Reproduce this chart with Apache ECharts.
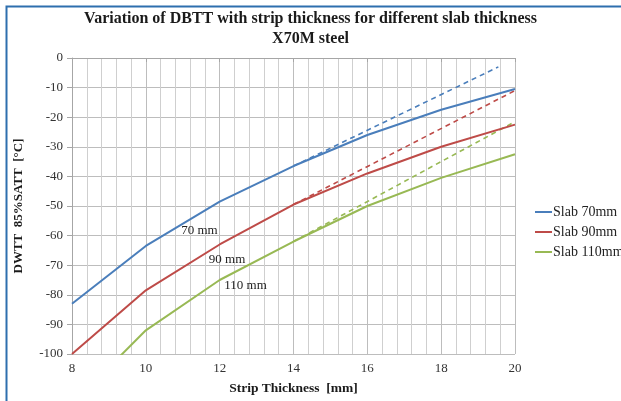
<!DOCTYPE html>
<html>
<head>
<meta charset="utf-8">
<title>DBTT vs strip thickness</title>
<script src="https://cdn.jsdelivr.net/npm/echarts@6/dist/echarts.min.js"></script>
<style>
  html, body { margin: 0; padding: 0; background: #fff; }
  #chart { width: 621px; height: 401px; }
</style>
</head>
<body>
<div id="chart"></div>
<script>
// strip thickness [mm]
const stripThickness = [8, 10, 12, 14, 16, 18, 20]

// DWTT 85%SATT [°C] per slab thickness
const slab70 = [-83, -63.5, -48.5, -36.5, -26, -17.5, -10.5]
const slab90 = [-100, -78.5, -63, -49.5, -39, -30, -22.5]
const slab110 = [-117, -92, -75, -62, -50, -40.5, -32.5]

// dashed extrapolation from 14 mm
const trend70 = [[14, -36.5], [19.55, -3]]
const trend90 = [[14, -49.5], [20, -11]]
const trend110 = [[14, -62], [20, -21.5]]

const seriesNames = ['Slab 70mm', 'Slab 90mm', 'Slab 110mm']
const colors = ['#4a7ebb', '#be4b48', '#98b954']

// in-plot notes, placed in data units
const notes = [
  { text: '70 mm', at: [11.45, -58.3] },
  { text: '90 mm', at: [12.2, -68] },
  { text: '110 mm', at: [12.7, -77] }
]

const serif = '"Liberation Serif", "DejaVu Serif", serif'

function pairs(ys) {
  return stripThickness.map((x, i) => [x, ys[i]])
}

function noteMark(n) {
  return {
    silent: true,
    symbol: 'circle',
    symbolSize: 1,
    itemStyle: { color: 'rgba(0,0,0,0)' },
    data: [{
      coord: n.at,
      label: {
        show: true,
        formatter: n.text,
        position: 'inside',
        fontFamily: serif,
        fontSize: 13,
        color: '#222'
      }
    }]
  }
}

const chart = echarts.init(document.getElementById('chart'))

let solid = [slab70, slab90, slab110].map((ys, i) => ({
  name: seriesNames[i],
  type: 'line',
  data: pairs(ys),
  clip: true,
  showSymbol: false,
  symbol: 'none',
  smooth: false,
  color: colors[i],
  lineStyle: { width: 2, color: colors[i] },
  markPoint: noteMark(notes[i]),
  z: 3
}))

let dashed = [trend70, trend90, trend110].map((d, i) => ({
  name: seriesNames[i] + ' trend',
  type: 'line',
  data: d,
  clip: true,
  symbol: 'none',
  color: colors[i],
  lineStyle: { width: 1.6, type: [5, 4], color: colors[i] },
  z: 2
}))

const option = {
  backgroundColor: '#fff',
  animation: false,
  title: {
    text: 'Variation of DBTT with strip thickness for different slab thickness\nX70M steel',
    left: 'center',
    top: 4,
    textStyle: {
      fontFamily: serif,
      fontWeight: 'bold',
      fontSize: 16,
      lineHeight: 20,
      color: '#1a1a1a'
    }
  },
  legend: {
    data: seriesNames,
    orient: 'vertical',
    left: 530,
    top: 200,
    itemWidth: 17,
    itemHeight: 2,
    itemGap: 6,
    icon: 'rect',
    textStyle: {
      fontFamily: serif,
      fontSize: 14,
      color: '#222',
      padding: [0, 0, 0, -4]
    }
  },
  grid: {
    left: 72,
    right: 106,
    top: 58,
    bottom: 44,
    containLabel: false
  },
  xAxis: {
    type: 'value',
    min: 8,
    max: 20,
    interval: 2,
    name: 'Strip Thickness  [mm]',
    nameLocation: 'middle',
    nameGap: 28,
    nameTextStyle: {
      fontFamily: serif,
      fontWeight: 'bold',
      fontSize: 13.5,
      color: '#1a1a1a'
    },
    axisLine: { show: true, lineStyle: { color: '#a6a6a6', width: 1 } },
    axisTick: { show: true, length: 4, lineStyle: { color: '#a6a6a6' } },
    axisLabel: {
      fontFamily: serif,
      fontSize: 13,
      color: '#333',
      margin: 8
    },
    splitLine: { show: true, lineStyle: { color: '#bdbdbd', width: 1 } },
    minorTick: { show: false, splitNumber: 5 },
    minorSplitLine: { show: true, lineStyle: { color: '#cfcfcf', width: 1 } }
  },
  yAxis: {
    type: 'value',
    min: -100,
    max: 0,
    interval: 10,
    name: 'DWTT  85%SATT  [°C]',
    nameLocation: 'middle',
    nameGap: 47,
    nameTextStyle: {
      fontFamily: serif,
      fontWeight: 'bold',
      fontSize: 13,
      color: '#1a1a1a'
    },
    axisLine: { show: true, lineStyle: { color: '#a6a6a6', width: 1 } },
    axisTick: { show: true, length: 5, lineStyle: { color: '#a6a6a6' } },
    axisLabel: {
      fontFamily: serif,
      fontSize: 13,
      color: '#333',
      margin: 9
    },
    splitLine: { show: true, lineStyle: { color: '#bdbdbd', width: 1 } }
  },
  graphic: [{
    type: 'polyline',
    silent: true,
    shape: { points: [[6.5, 401], [6.5, 6.5], [621, 6.5]] },
    style: { stroke: '#2e6fae', lineWidth: 2, fill: null }
  }],
  series: solid.concat(dashed)
}

chart.setOption(option)
</script>
</body>
</html>
